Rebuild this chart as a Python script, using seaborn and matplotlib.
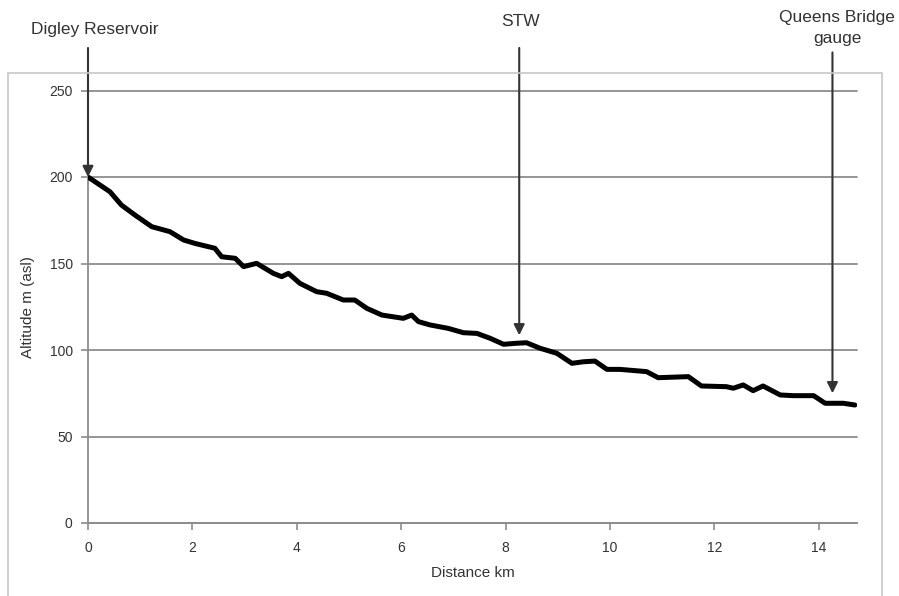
import numpy as np
import pandas as pd
import matplotlib
matplotlib.use("Agg")
import matplotlib.pyplot as plt
from matplotlib.patches import Rectangle
import seaborn as sns

# long profile of the river
distance_km = [0.0, 0.42, 0.64, 0.90, 1.22, 1.57, 1.83, 2.05, 2.43, 2.56, 2.82,
               2.98, 3.23, 3.55, 3.71, 3.84, 4.06, 4.38, 4.57, 4.89, 5.11, 5.34,
               5.63, 6.04, 6.20, 6.33, 6.55, 6.90, 7.19, 7.45, 7.70, 7.96, 8.21,
               8.40, 8.66, 8.98, 9.27, 9.49, 9.71, 9.94, 10.19, 10.70, 10.92,
               11.50, 11.75, 12.23, 12.36, 12.55, 12.74, 12.93, 13.26, 13.51,
               13.90, 14.12, 14.47, 14.69]
altitude_m = [200.0, 191.5, 183.8, 178.0, 171.3, 168.4, 163.6, 161.6, 158.8,
              153.9, 153.0, 148.2, 150.1, 144.3, 142.4, 144.3, 138.5, 133.7,
              132.8, 128.9, 128.9, 124.1, 120.2, 118.3, 120.2, 116.4, 114.5,
              112.5, 110.0, 109.6, 106.8, 103.3, 103.9, 104.2, 101.0, 98.1,
              92.3, 93.2, 93.6, 88.8, 88.8, 87.5, 84.0, 84.6, 79.2, 78.8, 77.9,
              79.8, 76.5, 79.2, 74.0, 73.6, 73.6, 69.2, 69.2, 68.2]

# site markers: label, distance, altitude the arrow points to
site_labels = ["Digley Reservoir", "STW", "Queens Bridge\ngauge"]
site_km = [0.0, 8.26, 14.26]
site_alt = [200.0, 108.5, 75.0]

y_ticks = [0, 50, 100, 150, 200, 250]
x_ticks = [0, 2, 4, 6, 8, 10, 12, 14]

df = pd.DataFrame({"Distance km": distance_km, "Altitude m (asl)": altitude_m})

sns.set_theme(style="white")
plt.rcParams["font.family"] = ["Liberation Sans", "DejaVu Sans"]

fig = plt.figure(figsize=(8.99, 5.96), dpi=100)
ax = fig.add_axes([88 / 899, 1 - 523 / 596, (857 - 88) / 899, (523 - 90.5) / 596])

# chart area border (Excel style)
fig.patches.append(Rectangle((8 / 899, -0.05), (882 - 8) / 899, 1.05 - 73 / 596,
                             transform=fig.transFigure, fill=False,
                             edgecolor="#c8c8c8", lw=1.2, zorder=0))

sns.lineplot(data=df, x="Distance km", y="Altitude m (asl)", ax=ax,
             color="black", lw=3.6, zorder=3)

ax.set_xlim(0, 14.73)
ax.set_ylim(0, 250)
ax.set_xticks(x_ticks)
ax.set_yticks(y_ticks)
ax.yaxis.grid(True, color="#8c8c8c", lw=1.3)
ax.xaxis.grid(False)
for gl in ax.get_ygridlines():
    gl.set_clip_on(False)
sns.despine(ax=ax)
for side in ["left", "bottom"]:
    ax.spines[side].set_color("#8c8c8c")
    ax.spines[side].set_linewidth(1.3)
ax.tick_params(axis="both", colors="#8c8c8c", length=5, width=1.2,
               labelcolor="#333333", labelsize=10)
ax.tick_params(axis="x", pad=8, direction="out", bottom=True)
ax.tick_params(axis="y", pad=6, direction="out", left=True)
ax.set_xlabel("Distance km", fontsize=11, color="#333333", labelpad=8)
ax.set_ylabel("Altitude m (asl)", fontsize=11, color="#333333", labelpad=10)

# arrows pointing at the sites along the river
tail_alt = [274.6, 274.6, 272.0]
text_x = [0.13, 8.28, 14.35]
text_y = [285.0, 289.6, 286.4]
for lab, xk, ya, yt, tx, ty in zip(site_labels, site_km, site_alt, tail_alt, text_x, text_y):
    ax.annotate("", xy=(xk, ya), xytext=(xk, yt),
                arrowprops=dict(arrowstyle="-|>", color="#333333", lw=1.5,
                                mutation_scale=16, shrinkA=0, shrinkB=0),
                annotation_clip=False, zorder=5)
    ax.text(tx, ty, lab, ha="center", va="center", fontsize=12.5,
            color="#333333", clip_on=False, linespacing=1.5)

fig.savefig("out.png", dpi=100)
